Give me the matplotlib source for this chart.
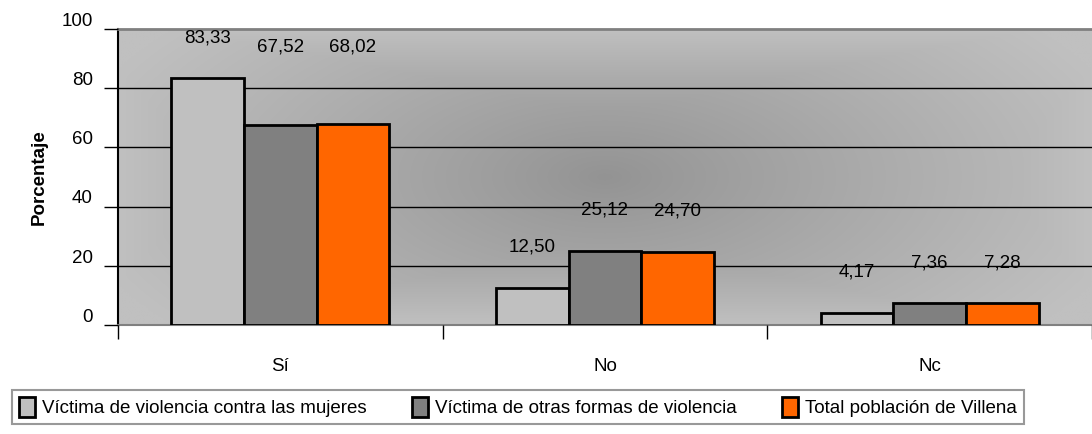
import numpy as np
import matplotlib.pyplot as plt
from matplotlib.transforms import ScaledTranslation

plt.rcParams['font.family'] = ['Liberation Sans', 'DejaVu Sans']

categories = ['Sí', 'No', 'Nc']
series_names = ['Víctima de violencia contra las mujeres',
                'Víctima de otras formas de violencia',
                'Total población de Villena']
mujeres = [83.33, 12.50, 4.17]
otras = [67.52, 25.12, 7.36]
total = [68.02, 24.70, 7.28]
colors = ['#c0c0c0', '#808080', '#ff6600']

fig = plt.figure(figsize=(10.92, 4.34), dpi=100)
ax = fig.add_axes([118 / 1092, 1 - 325 / 434, (1092 - 118) / 1092, (325 - 29) / 434])

# gradient background, darker at the centre
nx, ny = 400, 200
gx, gy = np.meshgrid(np.linspace(-1, 1, nx), np.linspace(-1, 1, ny))
d = np.clip(np.sqrt((gx * 0.9) ** 2 + (gy * 0.6) ** 2) ** 0.9, 0, 1)
d = np.maximum(d, np.maximum(np.abs(gx), np.abs(gy)) ** 1.5)
shade = 0x93 / 255 + (0xc0 - 0x93) / 255 * d
ax.imshow(np.dstack([shade, shade, shade]), extent=[-0.5, 2.5, 0, 100],
          aspect='auto', zorder=0, interpolation='bilinear')

x = np.arange(len(categories))
w = 0.224
for i, (vals, name, col) in enumerate(zip([mujeres, otras, total], series_names, colors)):
    pos = x + (i - 1) * w
    ax.bar(pos, vals, width=w, color=col, edgecolor='black', linewidth=2,
           label=name, zorder=3)
    for j, (p, v) in enumerate(zip(pos, vals)):
        ly = v + 13.7
        if j == 0 and i > 0:
            ly = 94  # excel pushed these up
        ax.text(p, ly, f'{v:.2f}'.replace('.', ','), ha='center', va='center',
                fontsize=13.5, zorder=4)

ax.set_xlim(-0.5, 2.5)
ax.set_ylim(0, 100)
ax.set_yticks([0, 20, 40, 60, 80, 100])
ax.yaxis.grid(True, color='black', linewidth=1)
ax.get_ygridlines()[-1].set_visible(False)
ax.get_ygridlines()[0].set_visible(False)
ax.set_axisbelow(False)
for gl in ax.get_ygridlines():
    gl.set_zorder(1)
ax.tick_params(axis='y', length=10, width=1, labelsize=13.5, pad=8)
off = ScaledTranslation(0, 7 / 72, fig.dpi_scale_trans)
for lbl in ax.get_yticklabels():
    lbl.set_transform(lbl.get_transform() + off)

ax.set_xticks([-0.5, 0.5, 1.5, 2.5])
ax.set_xticklabels([])
ax.tick_params(axis='x', length=10, width=1)
for xi, c in zip(x, categories):
    ax.text(xi, -14, c, ha='center', va='center', fontsize=13.5,
            transform=ax.transData, clip_on=False)

ax.spines['left'].set_color('black')
ax.spines['left'].set_linewidth(1.5)
ax.spines['bottom'].set_color('#808080')
ax.spines['bottom'].set_linewidth(1.5)
ax.spines['top'].set_color('#808080')
ax.spines['top'].set_linewidth(2)
ax.spines['right'].set_visible(False)

ax.set_ylabel('Porcentaje', fontsize=13.5, fontweight='bold', labelpad=10)

leg = fig.legend(loc='lower left', bbox_to_anchor=(12 / 1092, 10 / 434),
                 ncol=3, fontsize=13.5, frameon=True, fancybox=False,
                 handlelength=0.85, handleheight=1.3, handletextpad=0.4,
                 columnspacing=2.4, borderaxespad=0, borderpad=0.35)
leg.get_frame().set_edgecolor('#808080')
leg.get_frame().set_linewidth(1.5)

fig.savefig('out.png', dpi=100)
